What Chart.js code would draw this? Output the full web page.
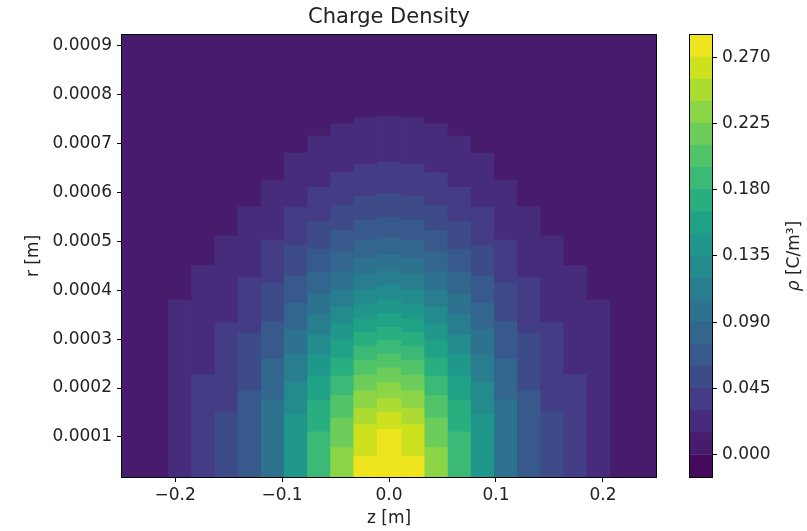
<!DOCTYPE html>
<html lang="en">
<head>
    <meta charset="UTF-8">
    <title>Charge Density</title>
    <script src="https://cdn.jsdelivr.net/npm/chart.js"></script>
    <style>
        body { margin: 0; background: #fff; }
        #wrap { position: relative; width: 807px; height: 531px; }
        #mainBox { position: absolute; left: 0; top: 0; width: 680px; height: 531px; }
        #barBox { position: absolute; left: 680px; top: 0; width: 127px; height: 531px; }
    </style>
</head>
<body>
<div id="wrap">
    <div id="mainBox"><canvas id="densityChart"></canvas></div>
    <div id="barBox"><canvas id="colorbarChart"></canvas></div>
</div>

<script>
// z column centres [m]
const zCenters = [-0.2387, -0.2170, -0.1953, -0.1736, -0.1519, -0.1302, -0.1085, -0.0868, -0.0651, -0.0434, -0.0217, 0.0000,
                  0.0217, 0.0434, 0.0651, 0.0868, 0.1085, 0.1302, 0.1519, 0.1736, 0.1953, 0.2170, 0.2387];

// contour levels of rho [C/m^3]
const levels = [-0.015, 0.000, 0.015, 0.030, 0.045, 0.060, 0.075, 0.090, 0.105, 0.120, 0.135,
                0.150, 0.165, 0.180, 0.195, 0.210, 0.225, 0.240, 0.255, 0.270, 0.285];

// per z column: r [um] where rho drops below 0.015, 0.030, 0.045, ...
const rCrossUm = [
    [],
    [],
    [380],
    [450, 227],
    [511, 333, 151],
    [570, 426, 312, 194],
    [625, 502, 413, 335, 260, 176],
    [680, 569, 492, 429, 373, 320, 268, 212, 146],
    [715, 610, 540, 484, 436, 392, 350, 309, 268, 224, 174, 110],
    [740, 640, 574, 522, 478, 438, 400, 365, 331, 296, 261, 224, 184, 138, 78],
    [752, 656, 592, 543, 502, 465, 431, 400, 370, 341, 313, 285, 256, 226, 194, 158, 125, 60],
    [756, 661, 598, 549, 508, 472, 439, 409, 380, 352, 324, 297, 269, 241, 211, 179, 150, 115],
    [752, 656, 592, 543, 502, 465, 431, 400, 370, 341, 313, 285, 256, 226, 194, 158, 125, 60],
    [740, 640, 574, 522, 478, 438, 400, 365, 331, 296, 261, 224, 184, 138, 78],
    [715, 610, 540, 484, 436, 392, 350, 309, 268, 224, 174, 110],
    [680, 569, 492, 429, 373, 320, 268, 212, 146],
    [625, 502, 413, 335, 260, 176],
    [570, 426, 312, 194],
    [511, 333, 151],
    [450, 227],
    [380],
    [],
    []
];

const zTicks = [-0.2, -0.1, 0.0, 0.1, 0.2];
const rTicks = [0.0001, 0.0002, 0.0003, 0.0004, 0.0005, 0.0006, 0.0007, 0.0008, 0.0009];
const rhoTicks = [0.000, 0.045, 0.090, 0.135, 0.180, 0.225, 0.270];

const zRange = [-0.2496, 0.2496];
const rRange = [0.000018, 0.000922];

// viridis, sampled every 0.05
const viridis = ['#440154', '#471365', '#482475', '#463480', '#414487', '#3b528b', '#355f8d',
                 '#2f6c8e', '#2a788e', '#25848e', '#21918c', '#1e9c89', '#22a884', '#2fb47c',
                 '#44bf70', '#5ec962', '#7ad151', '#9bd93c', '#bddf26', '#dfe318', '#fde725'];

function mix(a, b) {
    const pa = [1, 3, 5].map(i => parseInt(a.substr(i, 2), 16));
    const pb = [1, 3, 5].map(i => parseInt(b.substr(i, 2), 16));
    return 'rgb(' + pa.map((v, i) => Math.round((v + pb[i]) / 2)).join(',') + ')';
}

// colour of each band = middle of its level interval
const bandColors = [];
for (let j = 0; j < levels.length - 1; j++) bandColors.push(mix(viridis[j], viridis[j + 1]));

const FONT = 'DejaVu Sans';
const TXT = '#222';
Chart.defaults.font.family = FONT;
Chart.defaults.color = TXT;

const cellStyle = {
    grouped: false,
    barPercentage: 1,
    categoryPercentage: 1,
    inflateAmount: 0.5,
    borderWidth: 0,
    clip: 0
};

// filled bands, painted from the lowest level up (each covers everything below its boundary)
const bandSets = [];
for (let j = 1; j < levels.length - 1; j++) {
    const cells = [];
    zCenters.forEach((z, c) => {
        const cross = rCrossUm[c];
        if (j === 1) {
            cells.push({x: z, y: [rRange[0], rRange[1]]});
        } else if (cross.length >= j - 1) {
            cells.push({x: z, y: [rRange[0], cross[j - 2] * 1e-6]});
        }
    });
    bandSets.push(Object.assign({
        label: levels[j].toFixed(3) + ' - ' + levels[j + 1].toFixed(3),
        data: cells,
        backgroundColor: bandColors[j],
        order: levels.length - j
    }, cellStyle));
}

const framePlugin = {
    id: 'frame',
    afterDatasetsDraw(chart) {
        const a = chart.chartArea;
        const ctx = chart.ctx;
        ctx.save();
        ctx.strokeStyle = '#000';
        ctx.lineWidth = 1;
        ctx.strokeRect(Math.round(a.left) - 0.5, Math.round(a.top) - 0.5,
                       Math.round(a.right - a.left) + 1, Math.round(a.bottom - a.top) + 1);
        ctx.restore();
    }
};

function tickGrid() {
    return { display: true, drawOnChartArea: false, drawTicks: true, tickLength: 5, color: '#000', offset: false };
}

const minus = v => (v < 0 ? '\u2212' : '') + Math.abs(v).toFixed(1);

new Chart(document.getElementById('densityChart'), {
    type: 'bar',
    data: { datasets: bandSets },
    options: {
        responsive: true,
        maintainAspectRatio: false,
        animation: false,
        events: [],
        layout: { padding: { left: 0, right: 24, top: 0, bottom: 0 } },
        plugins: {
            legend: { display: false },
            tooltip: { enabled: false },
            title: {
                display: true,
                text: 'Charge Density',
                fullSize: false,
                color: TXT,
                font: { size: 21, weight: 'normal' },
                padding: { top: 5, bottom: 4.8 }
            }
        },
        scales: {
            x: {
                type: 'linear',
                min: zRange[0],
                max: zRange[1],
                offset: false,
                afterBuildTicks: a => { a.ticks = zTicks.map(v => ({value: v})); },
                afterFit: a => { a.height = 54; },
                ticks: { callback: v => minus(v), font: { size: 17 }, color: TXT, padding: 3, maxRotation: 0, autoSkip: false },
                grid: tickGrid(),
                border: { display: false },
                title: { display: true, text: 'z [m]', font: { size: 17 }, color: TXT, padding: { top: 0, bottom: 2 } }
            },
            y: {
                type: 'linear',
                min: rRange[0],
                max: rRange[1],
                afterBuildTicks: a => { a.ticks = rTicks.map(v => ({value: v})); },
                afterFit: a => { a.width = 122; },
                ticks: { callback: v => v.toFixed(4), font: { size: 17 }, color: TXT, padding: 5, autoSkip: false },
                grid: tickGrid(),
                border: { display: false },
                title: { display: true, text: 'r [m]', font: { size: 17 }, color: TXT, padding: { top: 23, bottom: 0 } }
            }
        }
    },
    plugins: [framePlugin]
});

// colour bar
const barSets = [];
for (let j = 0; j < levels.length - 1; j++) {
    barSets.push(Object.assign({
        data: [[levels[j], levels[j + 1]]],
        backgroundColor: bandColors[j]
    }, cellStyle));
}

const barLabelPlugin = {
    id: 'barLabel',
    afterDraw(chart) {
        const ctx = chart.ctx;
        const a = chart.chartArea;
        const cx = 115;
        const cy = (a.top + a.bottom) / 2;
        const rhoFont = 'italic 17px "' + FONT + '"';
        const restFont = '17px "' + FONT + '"';
        ctx.save();
        ctx.font = rhoFont;
        const w1 = ctx.measureText('\u03c1').width;
        ctx.font = restFont;
        const w2 = ctx.measureText(' [C/m\u00b3]').width;
        ctx.translate(cx, cy);
        ctx.rotate(-Math.PI / 2);
        ctx.fillStyle = TXT;
        ctx.textBaseline = 'middle';
        ctx.textAlign = 'left';
        const x0 = -(w1 + w2) / 2;
        ctx.font = rhoFont;
        ctx.fillText('\u03c1', x0, 0);
        ctx.font = restFont;
        ctx.fillText(' [C/m\u00b3]', x0 + w1, 0);
        ctx.restore();
    }
};

new Chart(document.getElementById('colorbarChart'), {
    type: 'bar',
    data: { labels: ['rho'], datasets: barSets },
    options: {
        responsive: true,
        maintainAspectRatio: false,
        animation: false,
        events: [],
        layout: { padding: { left: 10, right: 0, top: 35, bottom: 54 } },
        plugins: { legend: { display: false }, tooltip: { enabled: false } },
        scales: {
            x: { display: false },
            y: {
                position: 'right',
                min: levels[0],
                max: levels[levels.length - 1],
                afterBuildTicks: a => { a.ticks = rhoTicks.map(v => ({value: v})); },
                afterFit: a => { a.width = 95; },
                ticks: { callback: v => v.toFixed(3), font: { size: 17 }, color: TXT, padding: 5, autoSkip: false },
                grid: tickGrid(),
                border: { display: false }
            }
        }
    },
    plugins: [framePlugin, barLabelPlugin]
});
</script>
</body>
</html>
